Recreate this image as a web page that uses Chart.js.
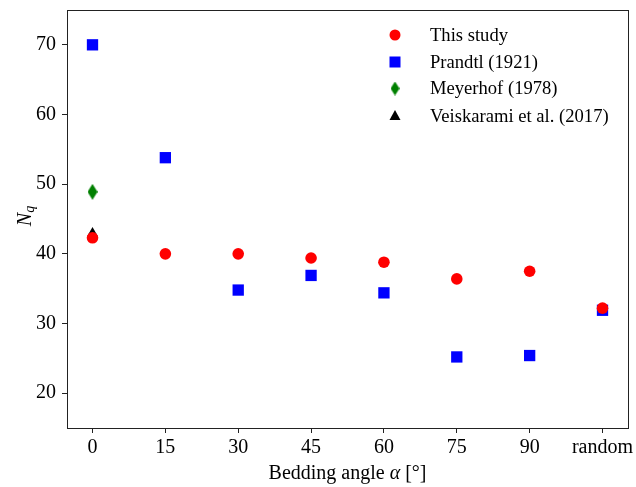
<!DOCTYPE html>
<html>
<head>
<meta charset="utf-8">
<script src="https://cdn.jsdelivr.net/npm/chart.js@4.4.1/dist/chart.umd.min.js"></script>
<style>
  html, body { margin: 0; padding: 0; background: #fff; }
  #wrap { width: 636px; height: 487px; position: relative; }
</style>
</head>
<body>
<div id="wrap"><canvas id="c" width="636" height="487"></canvas></div>
<script>
// ---- data ----
const categories = ["0", "15", "30", "45", "60", "75", "90", "random"];
const thisStudy = [42.3, 40.0, 40.0, 39.4, 38.8, 36.4, 37.5, 32.2];
const prandtl   = [70.0, 53.8, 34.8, 36.9, 34.4, 25.2, 25.4, 31.9];
const meyerhofX = [0];
const meyerhof  = [48.9];
const veiskX    = [0];
const veisk     = [43.0];
const yTicks = [20, 30, 40, 50, 60, 70];
const seriesNames = ["This study", "Prandtl (1921)", "Meyerhof (1978)", "Veiskarami et al. (2017)"];

const FONT = "'Liberation Serif', 'Times New Roman', serif";

function toPts(xs, ys) { return ys.map((v, i) => ({ x: xs[i], y: v })); }
const idx = categories.map((_, i) => i);

// thin diamond marker (matplotlib 'd')
function diamondCanvas(w, h, color) {
  const c = document.createElement('canvas');
  c.width = w; c.height = h;
  const g = c.getContext('2d');
  g.fillStyle = color;
  g.beginPath();
  g.moveTo(w / 2, 0); g.lineTo(w, h / 2); g.lineTo(w / 2, h); g.lineTo(0, h / 2);
  g.closePath(); g.fill();
  return c;
}
const diamond = diamondCanvas(10, 16, '#008000');
const diamondLeg = diamondCanvas(9, 14, '#008000');

const frameAndLabels = {
  id: 'frameAndLabels',
  afterDraw(chart) {
    const { ctx, chartArea: a } = chart;
    ctx.save();
    // frame
    ctx.strokeStyle = '#222';
    ctx.lineWidth = 1;
    ctx.strokeRect(Math.round(a.left) + 0.5, Math.round(a.top) + 0.5,
                   Math.round(a.right - a.left), Math.round(a.bottom - a.top));
    // x title
    ctx.fillStyle = '#000';
    ctx.textBaseline = 'alphabetic';
    const parts = [["Bedding angle ", "20px " + FONT], ["α", "italic 20px " + FONT], [" [°]", "20px " + FONT]];
    let total = 0;
    parts.forEach(p => { ctx.font = p[1]; total += ctx.measureText(p[0]).width; });
    let x = (a.left + a.right) / 2 - total / 2;
    parts.forEach(p => { ctx.font = p[1]; ctx.textAlign = 'left'; ctx.fillText(p[0], x, 479); x += ctx.measureText(p[0]).width; });
    // y title N_q
    ctx.translate(31, 216);
    ctx.rotate(-Math.PI / 2);
    ctx.font = "italic 20px " + FONT;
    const wN = ctx.measureText("N").width;
    ctx.font = "italic 14px " + FONT;
    const wq = ctx.measureText("q").width;
    let sx = -(wN + wq) / 2;
    ctx.font = "italic 20px " + FONT;
    ctx.fillText("N", sx, 0);
    ctx.font = "italic 14px " + FONT;
    ctx.fillText("q", sx + wN, 3);
    ctx.restore();

    // legend
    ctx.save();
    const rows = [35, 62, 88.5, 116];
    const mx = 395, tx = 430;
    chart.data.datasets.forEach((ds, i) => {
      const y = rows[i];
      ctx.fillStyle = ds.backgroundColor;
      const st = ds.pointStyle;
      ctx.beginPath();
      if (st === 'circle') {
        ctx.arc(mx, y, 5.5, 0, Math.PI * 2); ctx.fill();
      } else if (st === 'rect') {
        ctx.fillRect(mx - 5.5, y - 5.5, 11, 11);
      } else if (st === 'triangle') {
        ctx.moveTo(mx, y - 6); ctx.lineTo(mx + 5.5, y + 4); ctx.lineTo(mx - 5.5, y + 4); ctx.closePath(); ctx.fill();
      } else {
        ctx.drawImage(diamondLeg, mx - diamondLeg.width / 2, y - diamondLeg.height / 2);
      }
      ctx.fillStyle = '#000';
      ctx.font = "18.6px " + FONT;
      ctx.textAlign = 'left';
      ctx.textBaseline = 'middle';
      ctx.fillText(ds.label, tx, y + 1);
    });
    ctx.restore();
  }
};

new Chart(document.getElementById('c'), {
  type: 'scatter',
  data: {
    datasets: [
      { label: seriesNames[0], data: toPts(idx, thisStudy), pointStyle: 'circle', pointRadius: 5.8,
        backgroundColor: '#ff0000', borderColor: '#ff0000', borderWidth: 0 },
      { label: seriesNames[1], data: toPts(idx, prandtl), pointStyle: 'rect', pointRadius: 8,
        backgroundColor: '#0000ff', borderColor: '#0000ff', borderWidth: 0 },
      { label: seriesNames[2], data: toPts(meyerhofX, meyerhof), pointStyle: diamond,
        backgroundColor: '#008000', borderColor: '#008000', borderWidth: 0 },
      { label: seriesNames[3], data: toPts(veiskX, veisk), pointStyle: 'triangle', pointRadius: 6,
        backgroundColor: '#000000', borderColor: '#000000', borderWidth: 0 }
    ]
  },
  options: {
    responsive: false,
    animation: false,
    devicePixelRatio: 1,
    layout: { padding: { left: 0, right: 8, top: 10, bottom: 0 } },
    plugins: { legend: { display: false }, tooltip: { enabled: false } },
    scales: {
      x: {
        type: 'linear', min: -0.35, max: 7.35,
        afterBuildTicks: s => { s.ticks = idx.map(v => ({ value: v })); },
        afterFit: s => { s.height = 59; s.paddingLeft = 0; s.paddingRight = 0; },
        grid: { display: true, drawOnChartArea: false, drawTicks: true, tickLength: 5, color: '#222', lineWidth: 1 },
        border: { display: true, color: '#222', width: 1 },
        ticks: { color: '#000', font: { family: FONT, size: 20 }, padding: 3, maxRotation: 0, autoSkip: false,
                 callback: v => categories[v] }
      },
      y: {
        type: 'linear', min: 15, max: 75,
        afterBuildTicks: s => { s.ticks = yTicks.map(v => ({ value: v })); },
        afterFit: s => { s.width = 67; s.paddingTop = 0; s.paddingBottom = 0; },
        grid: { display: true, drawOnChartArea: false, drawTicks: true, tickLength: 5, color: '#222', lineWidth: 1 },
        border: { display: true, color: '#222', width: 1 },
        ticks: { color: '#000', font: { family: FONT, size: 20 }, padding: 6 }
      }
    }
  },
  plugins: [frameAndLabels]
});
</script>
</body>
</html>
